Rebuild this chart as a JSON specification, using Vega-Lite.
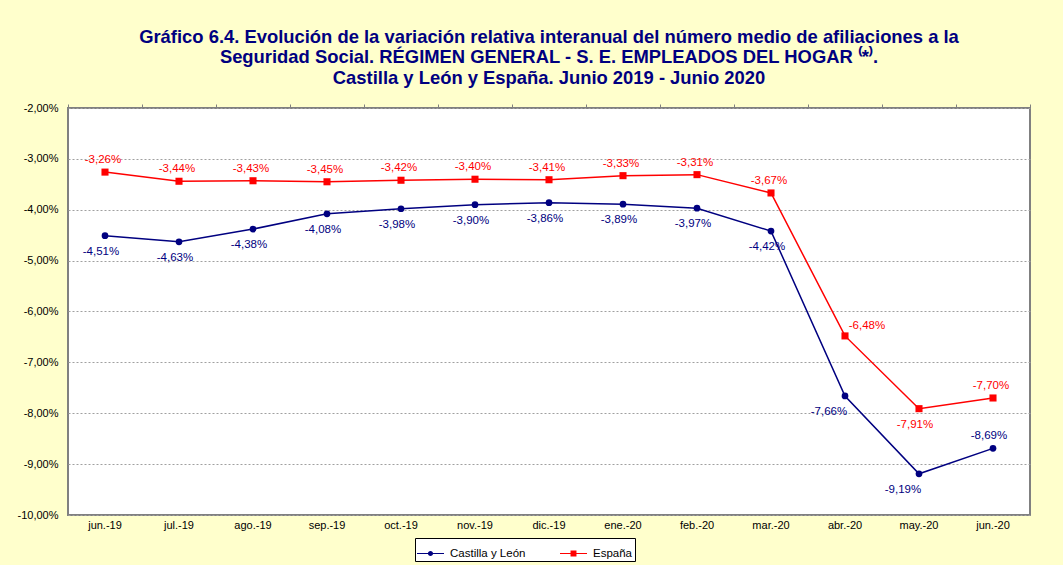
{
  "$schema": "https://vega.github.io/schema/vega-lite/v6.json",
  "width": 962,
  "height": 407,
  "autosize": {"type": "none"},
  "padding": {"left": 68, "top": 108, "right": 33, "bottom": 50},
  "background": "#FFFFCC",
  "config": {
    "locale": {"number": {"decimal": ",", "thousands": ".", "grouping": [3], "currency": ["", " €"], "minus": "-", "percent": "%"}},
    "font": "Liberation Sans",
    "view": {"fill": "white", "stroke": "#808080", "strokeWidth": 2},
    "axis": {"labelFont": "Liberation Sans", "labelFontSize": 11, "labelColor": "black"}
  },
  "title": {
    "text": ["Gráfico 6.4. Evolución de la variación relativa interanual del número medio de afiliaciones a la", "Seguridad Social. RÉGIMEN GENERAL - S. E. EMPLEADOS DEL HOGAR ⁽*⁾.", "Castilla y León y España. Junio 2019 - Junio 2020"],
    "font": "Liberation Sans",
    "fontSize": 18.4,
    "fontWeight": "bold",
    "color": "#000080",
    "lineHeight": 20.5,
    "anchor": "middle",
    "offset": 15
  },
  "resolve": {"axis": {"x": "independent"}},
  "data": {"values": [
    {"mes": "jun.-19", "serie": "Castilla y León", "valor": -0.0451},
    {"mes": "jul.-19", "serie": "Castilla y León", "valor": -0.0463},
    {"mes": "ago.-19", "serie": "Castilla y León", "valor": -0.0438},
    {"mes": "sep.-19", "serie": "Castilla y León", "valor": -0.0408},
    {"mes": "oct.-19", "serie": "Castilla y León", "valor": -0.0398},
    {"mes": "nov.-19", "serie": "Castilla y León", "valor": -0.0390},
    {"mes": "dic.-19", "serie": "Castilla y León", "valor": -0.0386},
    {"mes": "ene.-20", "serie": "Castilla y León", "valor": -0.0389},
    {"mes": "feb.-20", "serie": "Castilla y León", "valor": -0.0397},
    {"mes": "mar.-20", "serie": "Castilla y León", "valor": -0.0442},
    {"mes": "abr.-20", "serie": "Castilla y León", "valor": -0.0766},
    {"mes": "may.-20", "serie": "Castilla y León", "valor": -0.0919},
    {"mes": "jun.-20", "serie": "Castilla y León", "valor": -0.0869},
    {"mes": "jun.-19", "serie": "España", "valor": -0.0326},
    {"mes": "jul.-19", "serie": "España", "valor": -0.0344},
    {"mes": "ago.-19", "serie": "España", "valor": -0.0343},
    {"mes": "sep.-19", "serie": "España", "valor": -0.0345},
    {"mes": "oct.-19", "serie": "España", "valor": -0.0342},
    {"mes": "nov.-19", "serie": "España", "valor": -0.0340},
    {"mes": "dic.-19", "serie": "España", "valor": -0.0341},
    {"mes": "ene.-20", "serie": "España", "valor": -0.0333},
    {"mes": "feb.-20", "serie": "España", "valor": -0.0331},
    {"mes": "mar.-20", "serie": "España", "valor": -0.0367},
    {"mes": "abr.-20", "serie": "España", "valor": -0.0648},
    {"mes": "may.-20", "serie": "España", "valor": -0.0791},
    {"mes": "jun.-20", "serie": "España", "valor": -0.0770}
  ]},
  "layer": [
    {
      "mark": {"type": "point", "filled": true, "opacity": 0, "size": 729},
      "encoding": {
        "x": {"field": "mes", "type": "nominal", "sort": null, "scale": {"type": "band", "paddingInner": 0, "paddingOuter": 0}, "axis": null},
        "y": {"field": "valor", "type": "quantitative", "scale": {"domain": [-0.10, -0.02], "nice": false, "zero": false},
          "axis": {"title": null, "format": ".2%", "values": [-0.10, -0.09, -0.08, -0.07, -0.06, -0.05, -0.04, -0.03, -0.02], "domain": false, "ticks": false, "labelPadding": 10, "gridColor": "#a0a0a0", "gridDash": [2, 2], "gridWidth": 1}},
        "color": {
          "field": "serie", "type": "nominal",
          "scale": {"domain": ["Castilla y León", "España"], "range": ["#000080", "#FF0000"]},
          "legend": {
            "title": null, "orient": "none", "direction": "horizontal",
            "legendX": 347, "legendY": 430,
            "strokeColor": "black", "fillColor": "white", "padding": 2,
            "symbolSize": 729, "symbolOpacity": 1, "symbolStrokeWidth": 0,
            "labelFont": "Liberation Sans", "labelFontSize": 11.5, "labelColor": "black",
            "columnPadding": 34, "labelOffset": 6,
            "encode": {"symbols": {"update": {"opacity": {"value": 1}, "size": {"value": 729}}}}
          }
        },
        "shape": {
          "field": "serie", "type": "nominal",
          "scale": {"domain": ["Castilla y León", "España"], "range": ["M-1,-0.04H1V0.04H-1Z M-0.19,0A0.19,0.19 0 1,1 0.19,0A0.19,0.19 0 1,1 -0.19,0Z", "M-1,-0.04H1V0.04H-1Z M-0.22,-0.22H0.22V0.22H-0.22Z"]},
          "legend": {
            "title": null, "orient": "none", "direction": "horizontal",
            "legendX": 347, "legendY": 430,
            "strokeColor": "black", "fillColor": "white", "padding": 2,
            "symbolSize": 729, "symbolOpacity": 1, "symbolStrokeWidth": 0,
            "labelFont": "Liberation Sans", "labelFontSize": 11.5, "labelColor": "black",
            "columnPadding": 34, "labelOffset": 6,
            "encode": {"symbols": {"update": {"opacity": {"value": 1}, "size": {"value": 729}}}}
          }
        }
      }
    },
    {
      "mark": {"type": "line", "strokeWidth": 1.5},
      "encoding": {
        "x": {"field": "mes", "type": "nominal", "sort": null, "axis": {"orient": "top", "title": null, "labels": false, "domain": false, "grid": false, "ticks": true, "tickBand": "extent", "tickSize": 4, "tickColor": "#808080", "tickWidth": 1}},
        "y": {"field": "valor", "type": "quantitative"},
        "color": {"field": "serie", "type": "nominal"}
      }
    },
    {
      "transform": [{"filter": {"field": "serie", "equal": "Castilla y León"}}],
      "mark": {"type": "point", "shape": "circle", "filled": true, "size": 45, "opacity": 1},
      "encoding": {
        "x": {"field": "mes", "type": "nominal", "sort": null, "axis": {"orient": "bottom", "title": null, "labelAngle": 0, "domain": false, "ticks": false, "grid": false, "labelPadding": 4}},
        "y": {"field": "valor", "type": "quantitative"},
        "color": {"field": "serie", "type": "nominal"}
      }
    },
    {
      "transform": [{"filter": {"field": "serie", "equal": "España"}}],
      "mark": {"type": "point", "shape": "square", "filled": true, "size": 50, "opacity": 1},
      "encoding": {
        "x": {"field": "mes", "type": "nominal", "sort": null, "axis": null},
        "y": {"field": "valor", "type": "quantitative"},
        "color": {"field": "serie", "type": "nominal"}
      }
    },
    {
      "transform": [{"filter": {"and": [{"field": "serie", "equal": "Castilla y León"}, {"not": {"field": "mes", "oneOf": ["jun.-20", "abr.-20", "may.-20"]}}]}}],
      "mark": {"type": "text", "font": "Liberation Sans", "fontSize": 11.5, "dy": 16, "dx": -4},
      "encoding": {"x": {"field": "mes", "type": "nominal", "sort": null, "axis": null}, "y": {"field": "valor", "type": "quantitative"}, "color": {"field": "serie", "type": "nominal"}, "text": {"field": "valor", "type": "quantitative", "format": ".2%"}}
    },
    {
      "transform": [{"filter": {"and": [{"field": "serie", "equal": "Castilla y León"}, {"field": "mes", "oneOf": ["abr.-20", "may.-20"]}]}}],
      "mark": {"type": "text", "font": "Liberation Sans", "fontSize": 11.5, "dy": 16, "dx": -16},
      "encoding": {"x": {"field": "mes", "type": "nominal", "sort": null, "axis": null}, "y": {"field": "valor", "type": "quantitative"}, "color": {"field": "serie", "type": "nominal"}, "text": {"field": "valor", "type": "quantitative", "format": ".2%"}}
    },
    {
      "transform": [{"filter": {"and": [{"field": "serie", "equal": "Castilla y León"}, {"field": "mes", "equal": "jun.-20"}]}}],
      "mark": {"type": "text", "font": "Liberation Sans", "fontSize": 11.5, "dy": -12, "dx": -4},
      "encoding": {"x": {"field": "mes", "type": "nominal", "sort": null, "axis": null}, "y": {"field": "valor", "type": "quantitative"}, "color": {"field": "serie", "type": "nominal"}, "text": {"field": "valor", "type": "quantitative", "format": ".2%"}}
    },
    {
      "transform": [{"filter": {"and": [{"field": "serie", "equal": "España"}, {"not": {"field": "mes", "oneOf": ["abr.-20", "may.-20"]}}]}}],
      "mark": {"type": "text", "font": "Liberation Sans", "fontSize": 11.5, "dy": -12, "dx": -2},
      "encoding": {"x": {"field": "mes", "type": "nominal", "sort": null, "axis": null}, "y": {"field": "valor", "type": "quantitative"}, "color": {"field": "serie", "type": "nominal"}, "text": {"field": "valor", "type": "quantitative", "format": ".2%"}}
    },
    {
      "transform": [{"filter": {"and": [{"field": "serie", "equal": "España"}, {"field": "mes", "equal": "abr.-20"}]}}],
      "mark": {"type": "text", "font": "Liberation Sans", "fontSize": 11.5, "dy": -10, "dx": 22},
      "encoding": {"x": {"field": "mes", "type": "nominal", "sort": null, "axis": null}, "y": {"field": "valor", "type": "quantitative"}, "color": {"field": "serie", "type": "nominal"}, "text": {"field": "valor", "type": "quantitative", "format": ".2%"}}
    },
    {
      "transform": [{"filter": {"and": [{"field": "serie", "equal": "España"}, {"field": "mes", "equal": "may.-20"}]}}],
      "mark": {"type": "text", "font": "Liberation Sans", "fontSize": 11.5, "dy": 16, "dx": -4},
      "encoding": {"x": {"field": "mes", "type": "nominal", "sort": null, "axis": null}, "y": {"field": "valor", "type": "quantitative"}, "color": {"field": "serie", "type": "nominal"}, "text": {"field": "valor", "type": "quantitative", "format": ".2%"}}
    }
  ]
}
